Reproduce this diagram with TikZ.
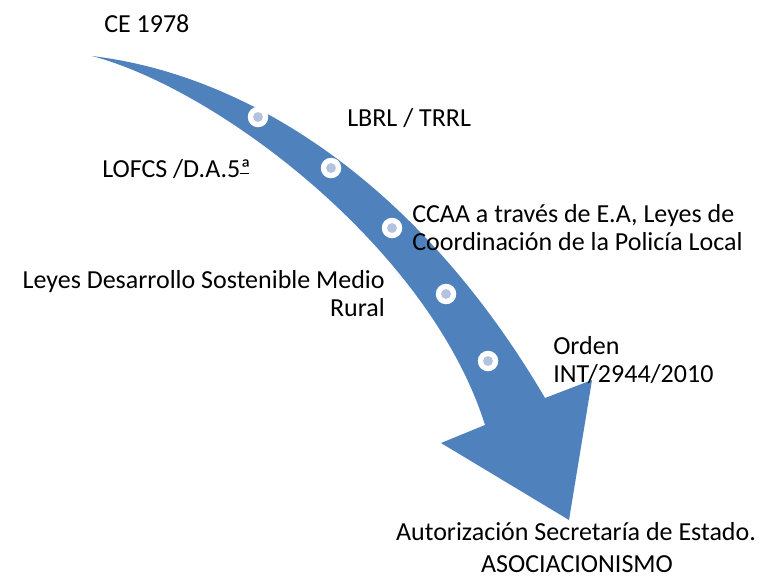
\documentclass[tikz,border=0pt]{standalone}
\usepackage{fontspec}
\setmainfont{Carlito}
\definecolor{arrowblue}{HTML}{4F81BD}
\definecolor{dotblue}{HTML}{B3C2DE}
% underlined feminine ordinal
\newcommand{\ordfem}{\ooalign{ª\cr\rule[0.1em]{0.33em}{0.06em}}}
\begin{document}
\begin{tikzpicture}[x=0.75pt,y=-0.75pt,
  label/.style={inner sep=0pt,font=\fontsize{19.5}{20.7}\selectfont,text=black},
  milestone/.style={circle,fill=white,minimum size=20.5pt*0.75,inner sep=0pt,
    path picture={\fill[dotblue] (path picture bounding box.center) circle (3.7pt);}}]
\useasboundingbox (0,0) rectangle (766,586);

% curved timeline arrow
\fill[arrowblue] (92,56) .. controls (250,75) and (420,185) .. (545,398)
  -- (592,380) -- (569,520) -- (441,443) -- (485,425)
  .. controls (430,250) and (220,90) .. (92,56) -- cycle;

% milestones along the arrow
\node[milestone] (m1) at (258,117) {};
\node[milestone] (m2) at (331,168) {};
\node[milestone] (m3) at (392,228) {};
\node[milestone] (m4) at (446,294) {};
\node[milestone] (m5) at (488,361) {};

% labels (multi-line labels are placed by the baseline of their last line)
\node[label,anchor=base west] (ce) at (104,32) {CE 1978};
\node[label,anchor=base west] (lbrl) at (347,126) {LBRL / TRRL};
\node[label,anchor=base west] (lofcs) at (102,177) {LOFCS /D.A.5\ordfem};
\node[label,anchor=base west,align=left] (ccaa) at (412,250)
  {CCAA a través de E.A, Leyes de\\Coordinación de la Policía Local};
\node[label,anchor=base east,align=right] (leyes) at (385,316)
  {Leyes Desarrollo Sostenible Medio\\Rural};
\node[label,anchor=base west,align=left] (orden) at (553,382)
  {Orden\\INT/2944/2010};
\node[label,anchor=base] (aut) at (576,540) {Autorización Secretaría de Estado.};
\node[label,anchor=base] (asoc) at (577,572) {ASOCIACIONISMO};
\end{tikzpicture}
\end{document}
